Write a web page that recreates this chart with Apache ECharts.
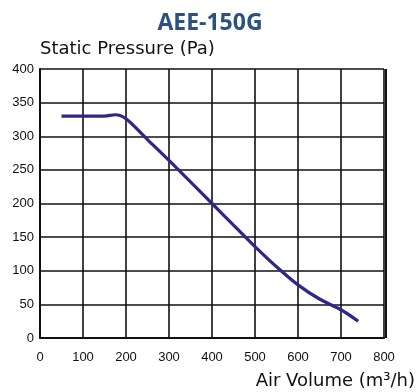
<!DOCTYPE html>
<html><head><meta charset="utf-8">
<script src="https://cdn.jsdelivr.net/npm/echarts@6/dist/echarts.min.js"></script>
<style>html,body{margin:0;padding:0;background:#fff}#c{width:418px;height:392px}</style>
</head><body><div id="c"></div>
<script>
const chartTitle = 'AEE-150G';
const xName = 'Air Volume (m³/h)';
const yName = 'Static Pressure (Pa)';
const airVolume = [50, 100, 150, 175, 200, 250, 300, 350, 400, 450, 500, 550, 600, 650, 700, 740];
const pressure = [330, 330, 330, 332, 326, 295, 264, 232, 200, 168, 136, 106, 79, 58, 42, 25];

const chart = echarts.init(document.getElementById('c'));
chart.setOption({
  animation: false,
  title: {
    text: chartTitle, left: 205, top: 7, textAlign: 'center',
    textStyle: {fontFamily: 'Open Sans', fontWeight: 'bold', fontSize: 23, color: '#2a5183'}
  },
  grid: {left: 40, right: 32, top: 69, bottom: 54},
  xAxis: {
    type: 'value', min: 0, max: 800, interval: 100,
    name: xName, nameLocation: 'end', nameGap: 31,
    nameTextStyle: {fontFamily: 'DejaVu Sans', fontSize: 18, color: '#111', align: 'right', verticalAlign: 'top', padding: [34, 0, 0, 0]},
    axisLine: {show: true, lineStyle: {color: '#111', width: 2}},
    axisTick: {show: false},
    axisLabel: {margin: 13, fontFamily: 'Liberation Sans', fontSize: 13, color: '#111'},
    splitLine: {show: true, lineStyle: {color: '#111', width: 1.6}}
  },
  yAxis: {
    type: 'value', min: 0, max: 400, interval: 50,
    name: yName, nameLocation: 'end', nameGap: 20,
    nameTextStyle: {fontFamily: 'DejaVu Sans', fontSize: 18, color: '#111', align: 'left', verticalAlign: 'middle'},
    axisLine: {show: true, lineStyle: {color: '#111', width: 2}},
    axisTick: {show: false},
    axisLabel: {margin: 6, fontFamily: 'Liberation Sans', fontSize: 13, color: '#111'},
    splitLine: {show: true, lineStyle: {color: '#111', width: 1.6}}
  },
  series: [{
    type: 'line', smooth: 0.3, symbol: 'none',
    data: airVolume.map((x, i) => [x, pressure[i]]),
    lineStyle: {color: '#2d2887', width: 3.2}
  }],
  graphic: [{type: 'rect', shape: {x: 386, y: 69, width: 0, height: 269}, style: {stroke: '#111', lineWidth: 2, fill: null}}]
});
</script></body></html>
